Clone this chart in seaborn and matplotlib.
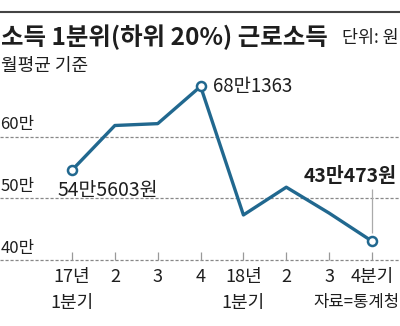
import matplotlib
matplotlib.use("Agg")
import matplotlib.pyplot as plt
import seaborn as sns
import pandas as pd

quarters = ["17년\n1분기", "2", "3", "4", "18년\n1분기", "2", "3", "4분기"]
income_man = [54.5603, 61.8, 62.1, 68.1363, 47.3, 51.8, 47.6, 43.0473]
y_ticks = [40, 50, 60]
y_tick_labels = ["40만", "50만", "60만"]
title = "소득 1분위(하위 20%) 근로소득"
unit = "단위: 원"
subtitle = "월평균 기준"
source = "자료=통계청"
label_first = "54만5603원"
label_peak = "68만1363"
label_last = "43만473원"

sns.set_theme(style="white")
plt.rcParams['font.family'] = ['Noto Sans CJK KR', 'DejaVu Sans']

W, H = 400, 326
fig = plt.figure(figsize=(W / 100, H / 100), dpi=100)
ax = fig.add_axes([0, 0, 1, 1])
ax.set_facecolor("none")
for s in ax.spines.values():
    s.set_visible(False)

px_per_x = (372 - 72) / 7
x_left = 0 - 72 / px_per_x
x_right = 7 + (W - 372) / px_per_x
px_per_v = 61.7 / 10
y_top = 40 + 260 / px_per_v
y_bot = 40 - (H - 260) / px_per_v
ax.set_xlim(x_left, x_right)
ax.set_ylim(y_bot, y_top)
ax.set_xticks([])
ax.set_yticks([])

def fx(px):
    return px / W

def fy(py):
    return 1 - py / H

txt = "#1e1e1e"

for v in y_ticks:
    ax.axhline(v, color="#888888", lw=0.9, ls=(0, (2.5, 1.5)), zorder=1)

idx = list(range(len(quarters)))
ax.vlines(idx, 40, 40 + 8 / px_per_v, color="#999999", lw=0.9, zorder=1)

df = pd.DataFrame({"q": idx, "v": income_man})
color = "#21688f"
sns.lineplot(data=df, x="q", y="v", ax=ax, color=color, lw=2.4, zorder=3)
mk = df.iloc[[0, 3, 7]]
ax.plot(mk["q"], mk["v"], ls="none", marker="o", ms=6.5, mfc="white",
        mec=color, mew=1.8, zorder=4)

ax.vlines(7, income_man[7] + 8 / px_per_v, income_man[7] + 52 / px_per_v,
          color="#aaaaaa", lw=0.9, zorder=2)

fig.add_artist(plt.Line2D([0, 1], [fy(12), fy(12)], color="#444444", lw=1.5,
                          transform=fig.transFigure))

fig.text(fx(1), fy(37), title, fontsize=17.6, fontweight="bold", color=txt,
         ha="left", va="center")
fig.text(fx(399), fy(38), unit, fontsize=12.5, color=txt,
         ha="right", va="center")
fig.text(fx(1), fy(66), subtitle, fontsize=13, color=txt,
         ha="left", va="center")

for v, lab in zip(y_ticks, y_tick_labels):
    ax.text(x_left + 0.5 / px_per_x, v + 12 / px_per_v, lab,
            fontsize=12, color=txt, ha="left", va="center")

for i, lab in zip(idx, quarters):
    lines = lab.split("\n")
    ax.text(i, 40 - 17 / px_per_v, lines[0], fontsize=13, color=txt,
            ha="center", va="center")
    if len(lines) > 1:
        ax.text(i, 40 - 43 / px_per_v, lines[1], fontsize=13, color=txt,
                ha="center", va="center")

fig.text(fx(400), fy(303), source, fontsize=12, color=txt,
         ha="right", va="center")

ax.text(0 + 36 / px_per_x, income_man[0] - 20 / px_per_v, label_first,
        fontsize=14, color=txt, ha="center", va="center")
ax.text(3 + 12 / px_per_x, income_man[3], label_peak,
        fontsize=13.5, color=txt, ha="left", va="center")
ax.text(7 + 25 / px_per_x, income_man[7] + 65 / px_per_v, label_last,
        fontsize=14, fontweight="bold", color=txt, ha="right", va="center")

fig.savefig("out.png", dpi=100)
